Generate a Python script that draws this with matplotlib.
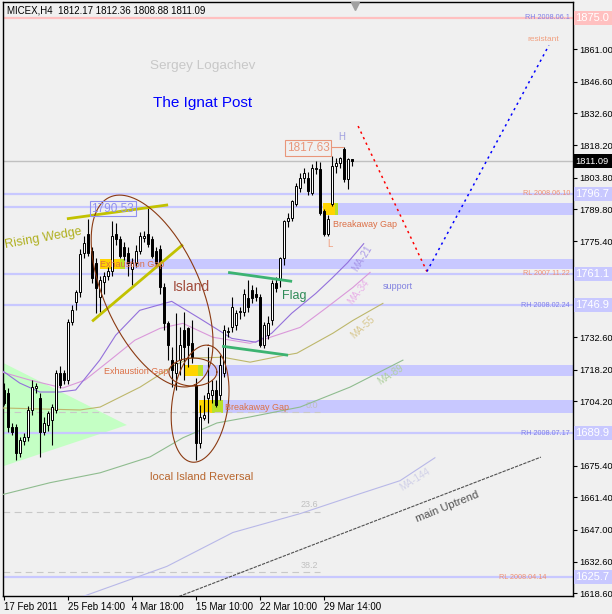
import numpy as np
import matplotlib.pyplot as plt
from matplotlib.patches import Rectangle, Polygon
from matplotlib.transforms import blended_transform_factory

plt.rcParams['font.family'] = ['Liberation Sans', 'DejaVu Sans']

# MICEX H4 candles, bar 0 = 17 Feb 2011
opens = [1709.2, 1707.8, 1692.7, 1692.7, 1681.2, 1686.5, 1688.3, 1700.3, 1710.0, 1705.6,
         1690.5, 1693.6, 1695.9, 1700.3, 1716.7, 1716.7, 1713.6, 1739.4, 1748.2, 1752.7,
         1770.4, 1778.9, 1771.3, 1765.6, 1750.5, 1757.5, 1760.2, 1762.4, 1778.9, 1776.7,
         1772.7, 1770.4, 1763.3, 1766.0, 1771.3, 1777.1, 1778.9, 1776.7, 1771.3, 1772.2,
         1754.9, 1738.9, 1722.5, 1716.7, 1722.5, 1735.8, 1736.7, 1730.0, 1711.4, 1685.6,
         1696.7, 1705.6, 1707.0, 1709.2, 1707.0, 1716.7, 1734.9, 1737.1, 1738.0, 1743.8,
         1743.8, 1750.0, 1753.6, 1752.2, 1750.5, 1729.2, 1733.6, 1740.2, 1756.7, 1758.0,
         1767.8, 1784.6, 1786.0, 1792.2, 1799.3, 1803.7, 1803.7, 1797.1, 1807.7, 1807.7,
         1789.1, 1778.9, 1792.2, 1809.1, 1810.4, 1816.6, 1803.3, 1812.17]
highs = [1712.3, 1710.0, 1694.5, 1694.0, 1688.3, 1690.0, 1702.0, 1713.6, 1712.5, 1708.0,
         1697.0, 1700.0, 1703.0, 1718.0, 1720.0, 1718.0, 1741.0, 1746.9, 1753.6, 1772.2,
         1778.0, 1785.5, 1773.0, 1768.0, 1760.2, 1762.0, 1764.0, 1784.6, 1783.8, 1778.0,
         1775.0, 1773.0, 1768.0, 1774.0, 1779.5, 1780.0, 1790.53, 1778.0, 1773.0, 1774.0,
         1757.0, 1740.0, 1728.3, 1743.4, 1737.1, 1743.8, 1737.1, 1740.2, 1714.5, 1702.5,
         1707.0, 1728.3, 1713.6, 1713.6, 1724.7, 1738.0, 1737.1, 1750.5, 1745.0, 1746.0,
         1754.0, 1758.0, 1755.8, 1755.0, 1752.0, 1739.4, 1742.0, 1758.0, 1759.5, 1768.5,
         1785.0, 1788.0, 1794.0, 1801.5, 1806.0, 1808.0, 1806.5, 1810.0, 1811.3, 1811.0,
         1790.0, 1787.0, 1813.5, 1812.5, 1813.0, 1817.63, 1812.6, 1812.36]
lows = [1702.5, 1690.5, 1689.2, 1678.1, 1679.4, 1684.8, 1686.5, 1698.1, 1708.0, 1679.4,
        1689.0, 1691.0, 1684.8, 1699.0, 1710.0, 1712.0, 1712.0, 1738.0, 1744.7, 1750.5,
        1768.2, 1769.1, 1757.0, 1743.4, 1743.8, 1752.0, 1758.0, 1760.0, 1774.0, 1768.0,
        1767.0, 1760.2, 1755.8, 1764.0, 1770.0, 1775.0, 1773.0, 1768.0, 1764.0, 1752.0,
        1736.0, 1722.5, 1710.5, 1709.2, 1715.8, 1713.6, 1719.4, 1721.2, 1678.1, 1683.4,
        1695.9, 1694.5, 1703.4, 1701.6, 1704.7, 1715.0, 1732.7, 1735.0, 1736.0, 1741.0,
        1742.0, 1743.8, 1748.0, 1749.0, 1728.3, 1727.8, 1732.0, 1738.0, 1753.0, 1755.0,
        1765.0, 1782.0, 1784.5, 1791.0, 1797.5, 1801.5, 1796.0, 1796.0, 1805.5, 1787.0,
        1777.8, 1778.0, 1791.0, 1806.0, 1808.0, 1802.0, 1798.9, 1808.88]
closes = [1703.4, 1692.7, 1690.5, 1681.2, 1687.0, 1688.3, 1700.3, 1710.5, 1710.8, 1690.5,
          1694.5, 1698.9, 1701.6, 1716.7, 1711.4, 1713.6, 1739.4, 1744.7, 1752.7, 1770.0,
          1774.9, 1770.4, 1759.3, 1754.5, 1758.0, 1760.2, 1762.4, 1778.0, 1776.7, 1769.1,
          1769.1, 1765.6, 1766.0, 1771.3, 1778.0, 1777.8, 1774.4, 1769.1, 1766.0, 1754.9,
          1738.9, 1729.2, 1718.0, 1721.2, 1729.2, 1728.3, 1729.2, 1723.8, 1685.6, 1697.2,
          1698.1, 1707.8, 1709.2, 1702.5, 1720.3, 1735.8, 1735.4, 1746.0, 1743.4, 1744.2,
          1752.2, 1746.0, 1750.0, 1750.5, 1729.2, 1738.0, 1739.0, 1756.7, 1754.5, 1767.8,
          1784.6, 1786.0, 1793.5, 1800.2, 1803.7, 1806.0, 1798.0, 1808.2, 1808.2, 1788.2,
          1778.9, 1785.5, 1809.1, 1810.4, 1812.6, 1803.3, 1812.2, 1811.09]

date_ticks = [0, 16, 32, 48, 64, 80]
date_labels = ['17 Feb 2011', '25 Feb 14:00', '4 Mar 18:00', '15 Mar 10:00', '22 Mar 10:00', '29 Mar 14:00']
price_ticks = [1861.00, 1846.60, 1832.60, 1818.20, 1803.80, 1789.80, 1775.40, 1732.60,
               1718.20, 1704.20, 1675.40, 1661.40, 1647.00, 1632.60, 1618.60]

# moving averages: bar position, value
ma21_x = [-0.5, 4, 9, 14, 18, 24, 28, 34, 42, 49, 57, 63, 67, 72, 78, 82, 86, 90]
ma21 = [1718.0, 1712.3, 1708.3, 1708.3, 1709.2, 1722.5, 1733.6, 1744.7, 1748.7, 1741.1,
        1732.2, 1730.5, 1734.5, 1743.4, 1752.2, 1758.9, 1766.0, 1774.4]
ma34_x = [-0.5, 6.6, 14.8, 20.3, 26.6, 32.8, 39.1, 44.8, 52.3, 61.6, 65.8, 74.1, 80.8, 87.3, 91.6]
ma34 = [1717.2, 1713.6, 1710.1, 1713.6, 1722.5, 1731.4, 1736.7, 1738.9, 1732.7, 1730.0,
        1732.2, 1737.1, 1746.0, 1754.9, 1761.6]
ma55_x = [-0.5, 19.1, 24.1, 34.1, 42.3, 46.6, 54.8, 61.6, 69.1, 73.3, 82.3, 87.3, 94.8]
ma55 = [1701.2, 1700.3, 1701.6, 1710.5, 1719.8, 1723.4, 1723.8, 1721.6, 1724.3, 1725.6,
        1734.5, 1740.2, 1747.8]
ma89_x = [-0.5, 11.6, 24.1, 36.6, 44.8, 53.3, 61.6, 74.1, 86.6, 99.8]
ma89 = [1662.5, 1667.9, 1672.3, 1679.4, 1687.9, 1694.5, 1697.2, 1701.6, 1710.5, 1722.5]
ma144_x = [19.5, 40.8, 57.3, 74.1, 89.1, 99.1, 107.8]
ma144 = [1617.0, 1630.6, 1645.7, 1654.1, 1663.0, 1668.8, 1679.0]

levels = [1875.0, 1796.7, 1790.53, 1761.1, 1746.9, 1689.9, 1625.7]
level_tags = ['RH 2008.06.1', 'RL 2008.06.10', '', 'RL 2007.11.22', 'RH 2008.02.24', 'RH 2008.07.17', 'RL 2008.04.14']
last_price = 1811.09

# gaps: start bar, colour change, end bar, low, high
gap_start = [24.1, 45.3, 48.8, 79.8]
gap_mid = [29.1, 48.6, 52.1, 82.8]
gap_end = [30.3, 49.8, 54.8, 83.6]
gap_low = [1763.1, 1715.4, 1698.9, 1787.2]
gap_high = [1767.6, 1720.3, 1704.7, 1792.5]
gap_names = ['Exhaustion Gap', 'Exhaustion Gap', 'Breakaway Gap', 'Breakaway Gap']

fib_labels = ['0.0', '23.6', '38.2']
fib_prices = [1699.4, 1655.0, 1628.2]

wedge_up_x, wedge_up = [15.8, 41.1], [1785.5, 1791.7]
wedge_lo_x, wedge_lo = [22.1, 44.8], [1739.8, 1774.0]
flag_up_x, flag_up = [56.1, 72.1], [1761.6, 1757.6]
flag_lo_x, flag_lo = [54.6, 71.1], [1728.7, 1724.7]
trend_x, trend = [42.8, 134.3], [1616.5, 1679.3]
proj_x, proj = [88.6, 105.8, 136.3], [1826.8, 1762.0, 1862.8]
pennant_x, pennant = [-0.5, 30.8, -0.5], [1721.6, 1693.6, 1675.0]

XMIN, XMAX = -0.175, 142.2
YMIN, YMAX = 1617.4, 1882.1
BG = '#F0F0F0'
LAV = '#C8C8FF'

fig = plt.figure(figsize=(6.12, 6.14), dpi=100, facecolor=BG)
ax = fig.add_axes([3 / 612, 18 / 614, 569.5 / 612, 594 / 614], facecolor=BG)
ax.set_xlim(XMIN, XMAX)
ax.set_ylim(YMIN, YMAX)
px_bar = 569.5 / (XMAX - XMIN)
px_price = 594 / (YMAX - YMIN)
right = blended_transform_factory(ax.transAxes, ax.transData)

# pennant triangle
ax.add_patch(Polygon(list(zip(pennant_x, pennant)), closed=True, fc='#C4FFC4', ec='none', zorder=1))

# horizontal levels
for lv, tag in zip(levels, level_tags):
    col = '#FFC0C0' if lv == 1875.0 else LAV
    ax.axhline(lv, color=col, lw=1.6, zorder=1)
    if tag:
        tc = '#F09070' if tag.startswith('RL') else '#8080E8'
        xr = 0.955 if tag == 'RL 2008.04.14' else 0.996
        ax.text(xr, lv, tag, transform=right, ha='right', va='center', fontsize=5.2, color=tc, zorder=8)
ax.axhline(last_price, color='#C0C0C0', lw=1, zorder=1)

# gap bands and boxes
for s, m, e, lo, hi in zip(gap_start, gap_mid, gap_end, gap_low, gap_high):
    ax.add_patch(Rectangle((s, lo), XMAX - s, hi - lo, fc=LAV, ec='none', zorder=1.2))
    ax.add_patch(Rectangle((s, lo), m - s, hi - lo, fc='#FFD400', ec='none', zorder=1.4))
    ax.add_patch(Rectangle((m, lo), e - m, hi - lo, fc='#B8E02A', ec='none', zorder=1.4))

gap_label_x = [24.1, 25.1, 55.3, 82.3]
gap_label_p = [1765.2, 1717.6, 1701.6, 1782.9]
for gx, gp, name in zip(gap_label_x, gap_label_p, gap_names):
    ax.text(gx, gp, name, fontsize=6.5, color='#DC7046', ha='left', va='center', zorder=9)

# fibonacci levels
for lab, fp in zip(fib_labels, fib_prices):
    ax.plot([XMIN, 79], [fp, fp], color='#C8C8C8', lw=0.8, ls=(0, (6, 4)), zorder=1.5)
    ax.text(78.6, fp + 1.0, lab, fontsize=6.5, color='#C0C0C0', ha='right', va='bottom', zorder=2)

# moving averages
ax.plot(ma144_x, ma144, color='#B8B8E8', lw=0.8, zorder=3)
ax.plot(ma89_x, ma89, color='#8FBC8F', lw=0.8, zorder=3)
ax.plot(ma55_x, ma55, color='#BDB76B', lw=0.8, zorder=3)
ax.plot(ma34_x, ma34, color='#DA98DA', lw=0.8, zorder=3)
ax.plot(ma21_x, ma21, color='#9370DB', lw=0.8, zorder=3)

ma_names = ['MA-21', 'MA-34', 'MA-55', 'MA-89', 'MA-144']
ma_lab_x = [89.6, 88.8, 89.8, 96.8, 102.8]
ma_lab_p = [1767.8, 1753.1, 1737.1, 1715.8, 1669.2]
ma_lab_rot = [58, 52, 42, 33, 32]
ma_lab_col = ['#A898E8', '#E8B0E8', '#D8C890', '#B0D0A0', '#D0D0E8']
for n, x, p, r, cl in zip(ma_names, ma_lab_x, ma_lab_p, ma_lab_rot, ma_lab_col):
    ax.text(x, p, n, rotation=r, fontsize=7, color=cl, ha='center', va='center', zorder=4)

# candles
idx = np.arange(len(opens))
o, h, l, c = map(np.array, (opens, highs, lows, closes))
up = c >= o
ax.vlines(idx, l, h, color='black', lw=0.8, zorder=5)
body = np.maximum(np.abs(c - o), 0.35)
ax.bar(idx, body, bottom=np.minimum(o, c), width=0.55,
       color=np.where(up, 'white', 'black'), edgecolor='black', linewidth=0.7, zorder=6)

# pattern lines
ax.plot(wedge_up_x, wedge_up, color='#C2C200', lw=2, zorder=7, solid_capstyle='butt')
ax.plot(wedge_lo_x, wedge_lo, color='#C2C200', lw=2, zorder=7, solid_capstyle='butt')
ax.plot(flag_up_x, flag_up, color='#3CB371', lw=2, zorder=7, solid_capstyle='butt')
ax.plot(flag_lo_x, flag_lo, color='#3CB371', lw=2, zorder=7, solid_capstyle='butt')
ax.plot(trend_x, trend, color='#505050', lw=0.8, ls=(0, (3, 1)), zorder=7)
ax.plot(proj_x[:2], proj[:2], color='red', lw=1.1, ls=(0, (1.5, 2.5)), zorder=7)
ax.plot(proj_x[1:], proj[1:], color='blue', lw=1.1, ls=(0, (1.5, 2.5)), zorder=7)


def ellipse(ic, pc, a, b, ang):
    t = np.linspace(0, 2 * np.pi, 240)
    th = np.radians(ang)
    dx = a * np.cos(t) * np.cos(th) - b * np.sin(t) * np.sin(th)
    dy = a * np.cos(t) * np.sin(th) + b * np.sin(t) * np.cos(th)
    ax.plot(ic + dx / px_bar, pc + dy / px_price, color='#8B3A12', lw=0.8, zorder=7)


ellipse(37.1, 1753.3, 103, 48, -65.7)
ellipse(47.3, 1717.2, 24, 14, 0)
ellipse(49.1, 1703.1, 59, 28, 82)

# labels
ax.text(0.007, 0.985, 'MICEX,H4  1812.17 1812.36 1808.88 1811.09', transform=ax.transAxes,
        fontsize=7, ha='left', va='center', color='black')
ax.text(49.8, 1853.5, 'Sergey Logachev', fontsize=9.7, color='#C8C8C8', ha='center', va='center')
ax.text(49.8, 1837.0, 'The Ignat Post', fontsize=11, color='#0000FF', ha='center', va='center')
ax.text(9.8, 1776.6, 'Rising Wedge', fontsize=9, color='#B0B020', rotation=10,
        ha='center', va='center', zorder=8)
ax.text(46.8, 1754.9, 'Island', fontsize=10, color='#A04A3A', ha='center', va='center', zorder=8)
ax.text(72.6, 1751.3, 'Flag', fontsize=9, color='#2E8B57', ha='center', va='center', zorder=8)
ax.text(49.6, 1670.5, 'local Island Reversal', fontsize=8, color='#B8662E', ha='center', va='center')
ax.text(110.8, 1657.2, 'main Uptrend', fontsize=8, color='#505050', rotation=22,
        ha='center', va='center')
ax.text(134.8, 1865.4, 'resistant', fontsize=6, color='#F0A080', ha='center', va='center')
ax.text(98.6, 1755.3, 'support', fontsize=6.5, color='#8080E0', ha='center', va='center')
ax.text(84.6, 1821.9, 'H', fontsize=7, color='#A0A0E0', ha='center', va='center')
ax.text(81.6, 1774.4, 'L', fontsize=7, color='#F0A080', ha='center', va='center')
ax.text(76.1, 1817.0, '1817.63', fontsize=8.5, color='#E9967A', ha='center', va='center', zorder=8,
        bbox=dict(boxstyle='square,pad=0.15', fc=BG, ec='#E9967A', lw=0.8))
ax.plot([81.9, 84.9], [highs[85], highs[85]], color='#E9967A', lw=0.8, zorder=7)
ax.text(27.3, 1790.0, '1790.53', fontsize=8.5, color='#9090F0', ha='center', va='center', zorder=8,
        bbox=dict(boxstyle='square,pad=0.15', fc='none', ec='#9090F0', lw=0.8))
ax.plot(87.8, 1880.3, marker='v', color='#A0A0A0', ms=6, clip_on=False, zorder=9)

# axis styling
for sp in ax.spines.values():
    sp.set_color('black')
    sp.set_linewidth(1)
ax.yaxis.tick_right()
ax.set_yticks(price_ticks)
ax.set_yticklabels(['%.2f' % v for v in price_ticks])
ax.tick_params(axis='y', direction='out', length=3, width=0.8, pad=1.5, labelsize=6.7)
ax.set_xticks(date_ticks)
ax.set_xticklabels(date_labels, ha='left')
ax.tick_params(axis='x', direction='out', length=3, width=0.8, pad=1.5, labelsize=7)

# price boxes on the scale
box_h = 14 / px_price
for lv in levels:
    if lv == 1790.53:
        continue
    col = '#FFC0C0' if lv == 1875.0 else LAV
    ax.add_patch(Rectangle((1.003, lv - box_h / 2), 0.08, box_h, transform=right,
                           fc=col, ec='none', clip_on=False, zorder=10))
    ax.text(1.0045, lv, '%.1f' % lv, transform=right, fontsize=8, color='white',
            ha='left', va='center', clip_on=False, zorder=11)
ax.add_patch(Rectangle((1.003, last_price - box_h / 2), 0.08, box_h, transform=right,
                       fc='black', ec='none', clip_on=False, zorder=10))
ax.text(1.0045, last_price, '%.2f' % last_price, transform=right, fontsize=6.7, color='white',
        ha='left', va='center', clip_on=False, zorder=11)

fig.savefig('out.png', dpi=100, facecolor=BG)
